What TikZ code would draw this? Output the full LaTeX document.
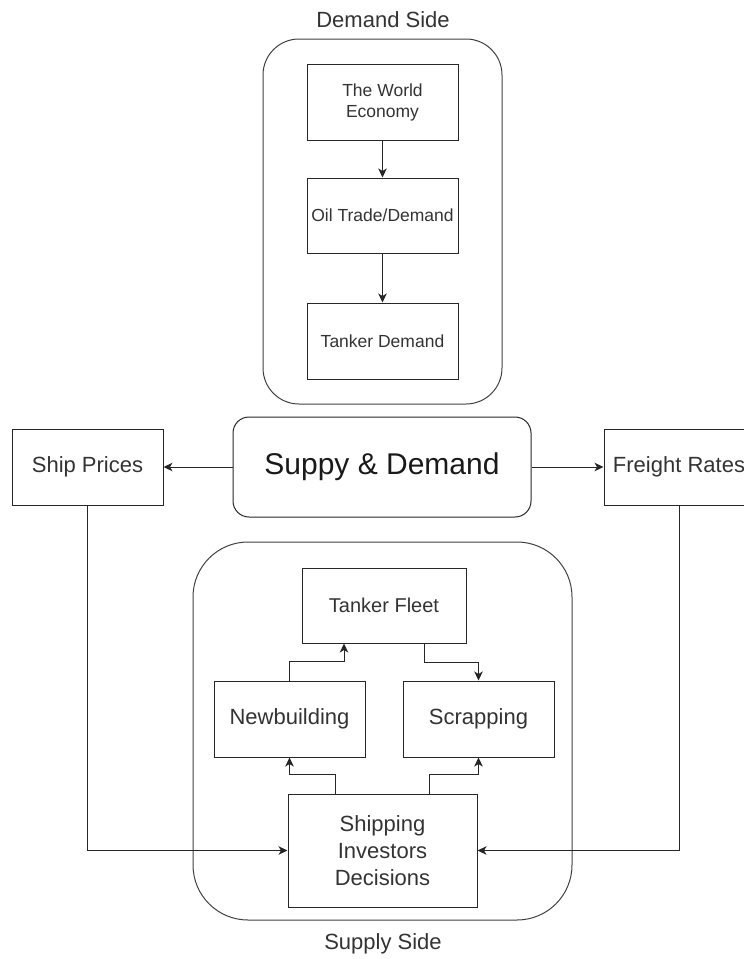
\documentclass[tikz,border=0pt]{standalone}
\usepackage{fontspec}
\setmainfont{Liberation Sans}
\usetikzlibrary{arrows.meta}

\begin{document}
\begin{tikzpicture}[x=1pt, y=-1pt,
    box/.style={draw=black!85, line width=1pt, text=black!80, align=center, inner sep=0pt},
    group/.style={draw=black!75, line width=1pt, inner sep=0pt},
    arr/.style={draw=black!85, line width=1pt, -{Stealth[length=9pt,width=8.5pt,inset=2.5pt]}},
    small/.style={font=\fontsize{17.5}{21}\selectfont},
    mid/.style={font=\fontsize{22}{27}\selectfont}]
    \useasboundingbox (0,0) rectangle (744,959);

    % Demand side: rounded group with three stacked boxes
    \node[group, rounded corners=36pt, minimum width=239pt, minimum height=365pt] (demand) at (382.5,221.5) {};
    \node[mid, text=black!80] (demandlbl) at (383,20) {Demand Side};
    \node[box, small, minimum width=151pt, minimum height=76pt] (econ) at (382.5,102) {The World\\Economy};
    \node[box, small, minimum width=151pt, minimum height=75pt] (oil) at (382.5,215.5) {Oil Trade/Demand};
    \node[box, small, minimum width=151pt, minimum height=76pt] (tdem) at (382.5,341) {Tanker Demand};

    \draw[arr] (econ.south) -- (oil.north);
    \draw[arr] (oil.south) -- (tdem.north);

    % Middle row
    \node[box, rounded corners=16pt, font=\fontsize{30}{36}\selectfont, text=black!90,
          minimum width=298pt, minimum height=100pt] (sd) at (382,467) {Suppy \& Demand};
    \node[box, mid, minimum width=151pt, minimum height=76pt] (ship) at (87.5,467) {Ship Prices};
    \node[box, mid, minimum width=150pt, minimum height=76pt] (freight) at (679,467) {Freight Rates};

    \draw[arr] (sd.west) -- (ship.east);
    \draw[arr] (sd.east) -- (freight.west);

    % Supply side: rounded group with fleet, flows and investors
    \node[group, rounded corners=55pt, minimum width=379pt, minimum height=378pt] (supply) at (382.5,731) {};
    \node[mid, text=black!80] (supplylbl) at (383,944) {Supply Side};
    \node[box, font=\fontsize{20}{24}\selectfont, minimum width=164pt, minimum height=75pt] (fleet) at (384,605.5) {Tanker Fleet};
    \node[box, mid, minimum width=151pt, minimum height=76pt] (newb) at (289.5,719) {Newbuilding};
    \node[box, mid, minimum width=151pt, minimum height=76pt] (scrap) at (478.5,719) {Scrapping};
    \node[box, mid, minimum width=189pt, minimum height=113pt] (invest) at (382.5,850.5) {Shipping\\Investors\\Decisions};

    \draw[arr] (newb.north) -- ++(0,-19) -| ([xshift=-40pt]fleet.south);
    \draw[arr] ([xshift=40pt]fleet.south) -- ++(0,19) -| (scrap.north);
    \draw[arr] ([xshift=-47pt]invest.north) -- ++(0,-19) -| (newb.south);
    \draw[arr] ([xshift=47pt]invest.north) -- ++(0,-19) -| (scrap.south);

    % Prices and rates feed the investors
    \draw[arr] (ship.south) |- (invest.west);
    \draw[arr] (freight.south) |- (invest.east);

\end{tikzpicture}
\end{document}
